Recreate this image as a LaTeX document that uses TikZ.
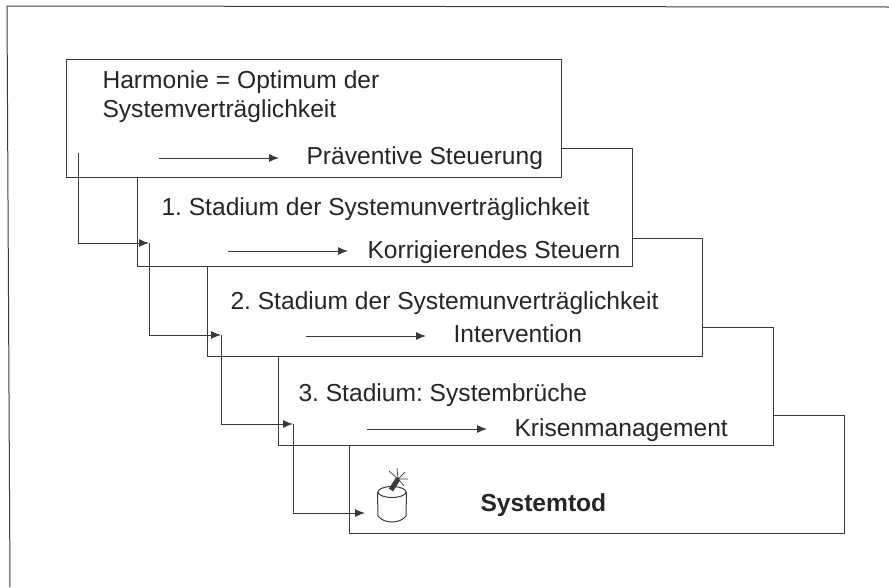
\documentclass[tikz,border=0pt]{standalone}
\usepackage{fontspec}
\setmainfont{Liberation Sans}
\usepackage{xcolor}
\usetikzlibrary{arrows.meta,positioning,shapes.geometric}
\definecolor{inkGrey}{HTML}{3A3A3A}
\definecolor{textGrey}{HTML}{262626}
\frenchspacing

\begin{document}
\begin{tikzpicture}[
    x=1pt,y=-1pt,
    >={Latex[length=10pt,width=8pt]},
    line width=1pt,
    draw=inkGrey,
    stage/.style={draw=inkGrey,fill=white,anchor=north west,inner sep=0pt,outer sep=0pt,
      minimum width=495pt,minimum height=118pt},
    label/.style={anchor=base west,inner sep=0pt,text=textGrey,
      font=\fontsize{24.6}{29}\selectfont,align=left},
    flow/.style={->,inkGrey},
    link/.style={->,inkGrey}
  ]
    \useasboundingbox (0,0) rectangle (889,587);

    % sheet edge, open at the right and the bottom
    \coordinate (sheetA) at (889,7);
    \coordinate (sheetB) at (7,6);
    \coordinate (sheetC) at (10,587);
    \draw[inkGrey] (sheetA)--(sheetB)--(sheetC);

    % boxes, the lowest one first
    \node[stage] (tod) at (349,415) {};
    \node[stage] (third) at (278,327) {};
    \node[stage] (second) at (207,238) {};
    \node[stage] (first) at (137,148) {};
    \node[stage] (harmonie) at (66,59) {};

    \node[label] (harmonieText) at (102,117) {Harmonie = Optimum der\\Systemverträglichkeit};
    \node[label] (firstText) at (161,215) {1. Stadium der Systemunverträglichkeit};
    \node[label] (secondText) at (230,309) {2. Stadium der Systemunverträglichkeit};
    \node[label] (thirdText) at (298,401) {3. Stadium: Systembrüche};
    \node[label,font=\fontsize{24.6}{29}\selectfont\bfseries] (todText) at (480,511) {Systemtod};

    \node[label] (praevention) at (306,164) {Präventive Steuerung};
    \node[label] (korrektur) at (367,258) {Korrigierendes Steuern};
    \node[label] (intervention) at (453,342) {Intervention};
    \node[label] (krise) at (514,436) {Krisenmanagement};

    \coordinate (flowA) at (159,158);
    \coordinate (flowB) at (228,251);
    \coordinate (flowC) at (306,336);
    \coordinate (flowD) at (367,429);
    \coordinate[right=120pt of flowA] (tipA);
    \coordinate[right=120pt of flowB] (tipB);
    \coordinate[right=120pt of flowC] (tipC);
    \coordinate[right=120pt of flowD] (tipD);
    \draw[flow] (flowA)--(tipA);
    \draw[flow] (flowB)--(tipB);
    \draw[flow] (flowC)--(tipC);
    \draw[flow] (flowD)--(tipD);

    % links that step down from box to box
    \coordinate (portA) at (78,153);
    \coordinate (portB) at (149,243);
    \coordinate (portC) at (221,335);
    \coordinate (portD) at (293,424);
    \coordinate (portE) at (365,513);
    \draw[link] (portA)|-(portB);
    \draw[link] (portB)|-(portC);
    \draw[link] (portC)|-(portD);
    \draw[link] (portD)|-(portE);

    % the bomb
    \node[ellipse,draw=inkGrey,inner sep=0pt,minimum width=28pt,minimum height=11pt] (bombTop) at (392,492) {};
    \coordinate (bombFootL) at (378,516);
    \coordinate (bombFootR) at (406,516);
    \draw[inkGrey] (bombTop.west)--(bombFootL) .. controls (384,524) and (400,524) .. (bombFootR)--(bombTop.east);
    \coordinate (fuse) at (391,490);
    \coordinate (spark) at (398,479);
    \draw[line width=5pt,inkGrey] (fuse)--(spark);
    \draw[line width=0.7pt,inkGrey] (spark)--++(-9,-8) (spark)--++(-1,-11)
      (spark)--++(7,-7) (spark)--++(10,0) (spark)--++(6,7);
  \end{tikzpicture}
\end{document}
